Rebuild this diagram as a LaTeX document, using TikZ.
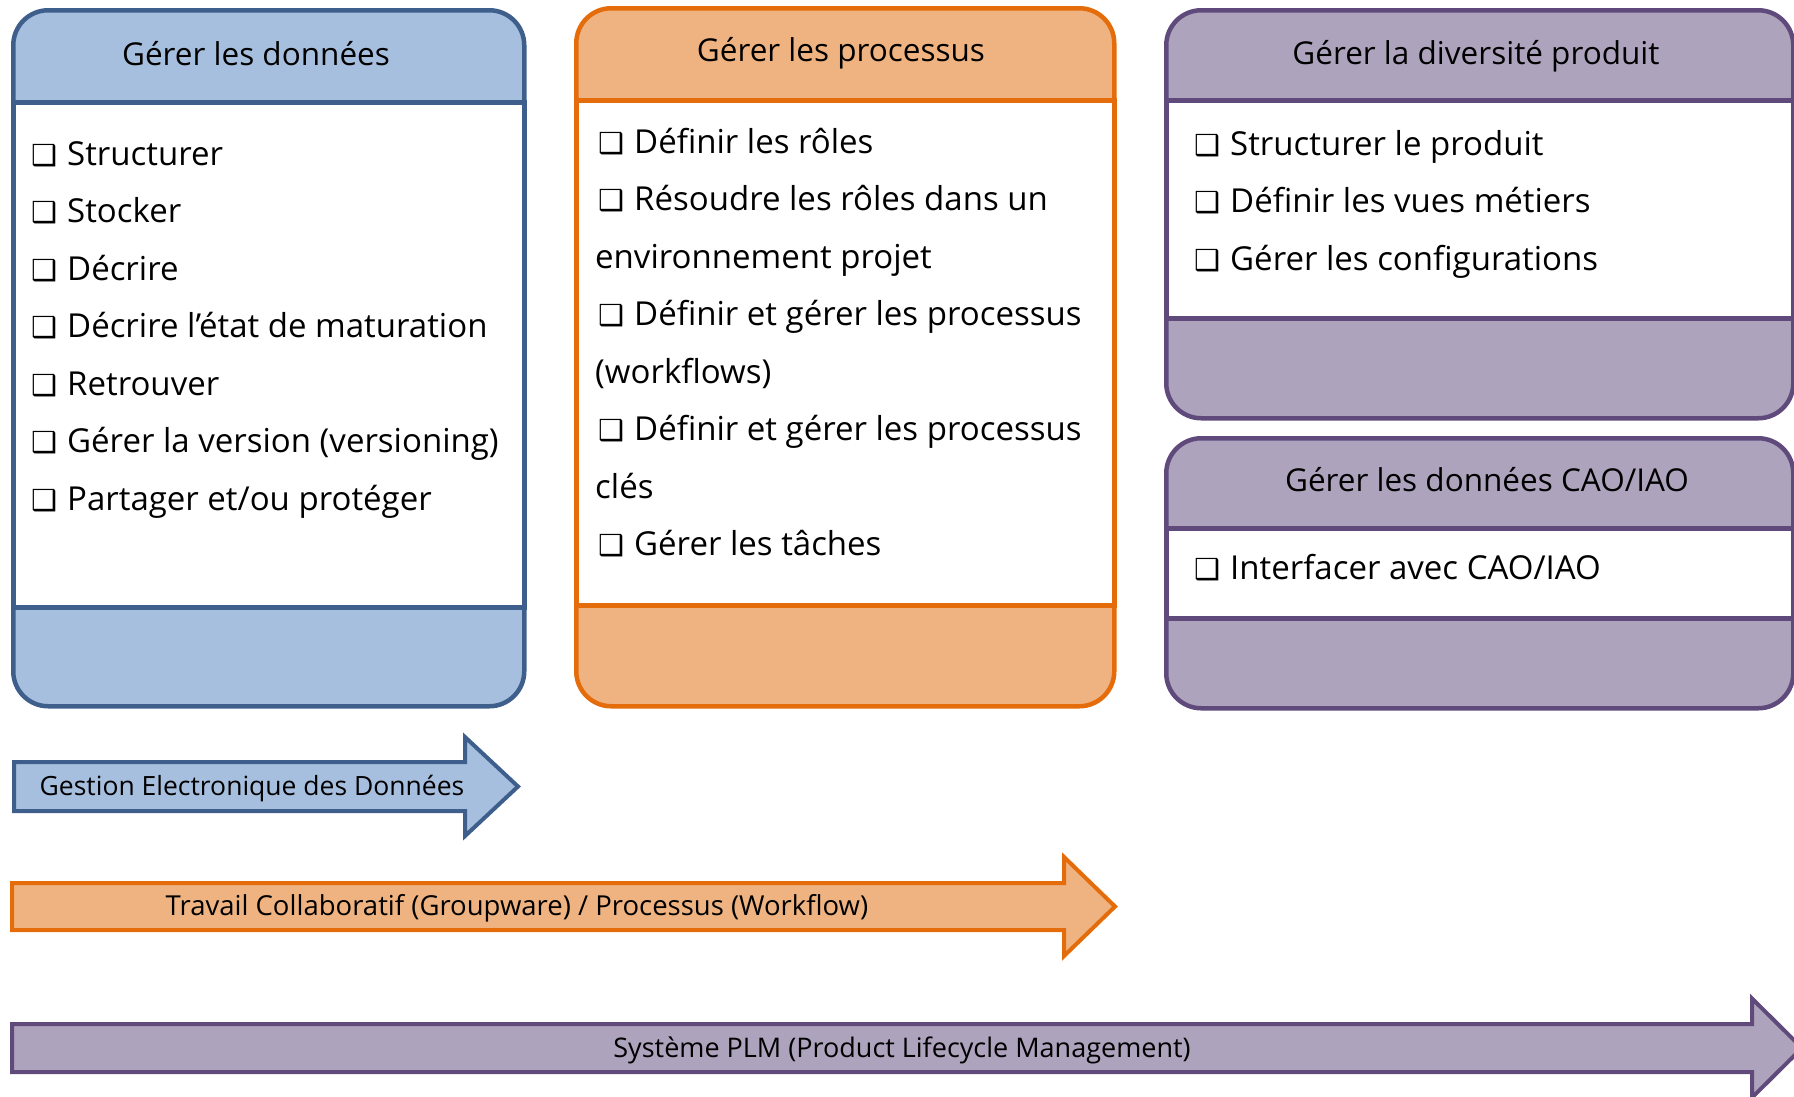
\documentclass[tikz,border=0pt]{standalone}
\usepackage{fontspec}
\setmainfont{Open Sans}
\newfontfamily\dvfont{DejaVu Sans}
\definecolor{bfill}{HTML}{A7BFDE}
\definecolor{bline}{HTML}{3E5F8B}
\definecolor{ofill}{HTML}{EFB381}
\definecolor{oline}{HTML}{E46C0A}
\definecolor{pfill}{HTML}{ADA3BD}
\definecolor{pline}{HTML}{5F4A7B}
\newcommand{\chkbx}{\makebox[36pt][l]{\dvfont\bfseries\fontsize{29}{29}\selectfont ❑}}
\tikzset{
  frame/.style={rectangle, rounded corners=35pt, line width=4.5pt, inner sep=0pt, anchor=north west},
  bodybox/.style={rectangle, fill=white, line width=4.5pt, inner sep=0pt, anchor=north west},
  headtxt/.style={anchor=base, inner sep=0pt, font=\fontsize{31.5}{37}\selectfont},
  itemtxt/.style={anchor=base west, inner sep=0pt, font=\fontsize{33}{38}\selectfont},
  arrtxt/.style={anchor=base, inner sep=0pt},
  bigarrow/.style={line width=4pt, line join=miter}
}
\begin{document}
\begin{tikzpicture}[x=1pt,y=-1pt]
\useasboundingbox (0,0) rectangle (1794,1096);

% ---- Box 1 : Gérer les données
\node[frame, fill=bfill, draw=bline, minimum width=511pt, minimum height=696pt] (f1) at (11,8) {};
\node[bodybox, draw=bline, minimum width=511pt, minimum height=505pt] (b1) at (11,100) {};
\node[headtxt] (h1) at (256,65) {Gérer les données};
\node[itemtxt] (i11) at (31,165)   {\chkbx Structurer};
\node[itemtxt] (i12) at (31,222.5) {\chkbx Stocker};
\node[itemtxt] (i13) at (31,280)   {\chkbx Décrire};
\node[itemtxt] (i14) at (31,337.5) {\chkbx Décrire l’état de maturation};
\node[itemtxt] (i15) at (31,395)   {\chkbx Retrouver};
\node[itemtxt] (i16) at (31,452.5) {\chkbx Gérer la version (versioning)};
\node[itemtxt] (i17) at (31,510)   {\chkbx Partager et/ou protéger};

% ---- Box 2 : Gérer les processus
\node[frame, fill=ofill, draw=oline, minimum width=538pt, minimum height=698pt] (f2) at (574,6) {};
\node[bodybox, draw=oline, minimum width=538pt, minimum height=505pt] (b2) at (574,98) {};
\node[headtxt] (h2) at (841,61) {Gérer les processus};
\node[itemtxt] (i21) at (598,153)   {\chkbx Définir les rôles};
\node[itemtxt] (i22) at (598,210.5) {\chkbx Résoudre les rôles dans un};
\node[itemtxt] (i22b) at (595,268)  {environnement projet};
\node[itemtxt] (i23) at (598,325.5) {\chkbx Définir et gérer les processus};
\node[itemtxt] (i23b) at (595,383)  {(workflows)};
\node[itemtxt] (i24) at (598,440.5) {\chkbx Définir et gérer les processus};
\node[itemtxt] (i24b) at (595,498)  {clés};
\node[itemtxt] (i25) at (598,555.5) {\chkbx Gérer les tâches};

% ---- Box 3 : Gérer la diversité produit
\node[frame, fill=pfill, draw=pline, minimum width=627pt, minimum height=408pt] (f3) at (1164,8) {};
\node[bodybox, draw=pline, minimum width=627pt, minimum height=218pt] (b3) at (1164,98) {};
\node[headtxt] (h3) at (1476,64) {Gérer la diversité produit};
\node[itemtxt] (i31) at (1194,155)   {\chkbx Structurer le produit};
\node[itemtxt] (i32) at (1194,212.5) {\chkbx Définir les vues métiers};
\node[itemtxt] (i33) at (1194,270)   {\chkbx Gérer les configurations};

% ---- Box 4 : Gérer les données CAO/IAO
\node[frame, fill=pfill, draw=pline, minimum width=627pt, minimum height=270pt] (f4) at (1164,436) {};
\node[bodybox, draw=pline, minimum width=627pt, minimum height=90pt] (b4) at (1164,526) {};
\node[headtxt] (h4) at (1487,491) {Gérer les données CAO/IAO};
\node[itemtxt] (i41) at (1194,579) {\chkbx Interfacer avec CAO/IAO};

% ---- Arrows
\draw[bigarrow, fill=bfill, draw=bline]
  (14,762) -- (465,762) -- (465,737) -- (518,786.5) -- (465,836) -- (465,811) -- (14,811) -- cycle;
\node[arrtxt, font=\fontsize{26.5}{31}\selectfont] (a1) at (252,795.5) {Gestion Electronique des Données};

\draw[bigarrow, fill=ofill, draw=oline]
  (12,883) -- (1064,883) -- (1064,857) -- (1115,906.5) -- (1064,956) -- (1064,930) -- (12,930) -- cycle;
\node[arrtxt, font=\fontsize{27.5}{32}\selectfont] (a2) at (517,915.5) {Travail Collaboratif (Groupware) / Processus (Workflow)};

\draw[bigarrow, fill=pfill, draw=pline]
  (12,1024) -- (1752,1024) -- (1752,998.5) -- (1802,1048) -- (1752,1097.5) -- (1752,1072) -- (12,1072) -- cycle;
\node[arrtxt, font=\fontsize{27}{32}\selectfont] (a3) at (902,1057) {Système PLM (Product Lifecycle Management)};
\end{tikzpicture}
\end{document}
